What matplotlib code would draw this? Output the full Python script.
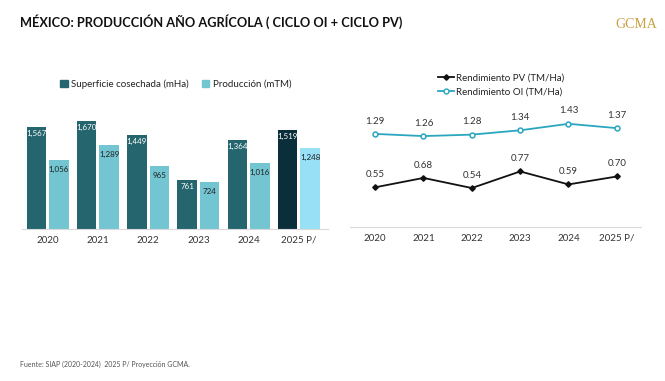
'''
plot.py - produccion ano agricola (ciclo OI + ciclo PV)
'''
import numpy as np
import matplotlib
matplotlib.use('Agg')
import matplotlib.pyplot as plt
from matplotlib.lines import Line2D
from matplotlib.patches import Patch

# data
years = ['2020', '2021', '2022', '2023', '2024', '2025 P/']
superficie = [1567, 1670, 1449, 761, 1364, 1519]
produccion = [1056, 1289, 965, 724, 1016, 1248]
rend_pv = [0.55, 0.68, 0.54, 0.77, 0.59, 0.70]
rend_oi = [1.29, 1.26, 1.28, 1.34, 1.43, 1.37]

plt.rcParams['font.family'] = ['Lato', 'DejaVu Sans']

W, H = 665, 381
fig = plt.figure(figsize=(W / 100, H / 100), dpi=100)


def rect(x0, y0, x1, y1):
    # pixel box (top-left origin) -> figure fraction
    return [x0 / W, 1 - y1 / H, (x1 - x0) / W, (y1 - y0) / H]


# colours
c_dark = '#25666E'
c_light = '#72C5D1'
c_dark_p = '#0B2F3A'
c_light_p = '#97E0F6'
c_oi = '#2AA6BF'

# ---- bar chart ----
ax1 = fig.add_axes(rect(22, 105, 328, 229))
x = np.arange(len(years))
bw = 0.39
off = 0.225
cols_d = [c_dark] * 5 + [c_dark_p]
cols_l = [c_light] * 5 + [c_light_p]
b1 = ax1.bar(x - off, superficie, bw, color=cols_d, zorder=2)
b2 = ax1.bar(x + off, produccion, bw, color=cols_l, zorder=2)
for r, v in zip(b1, superficie):
    ax1.text(r.get_x() + r.get_width() / 2, v - 45, f'{v:,}', ha='center',
             va='top', color='white', fontsize=5.8)
for r, v in zip(b2, produccion):
    ax1.text(r.get_x() + r.get_width() / 2, v - 85, f'{v:,}', ha='center',
             va='top', color='#222222', fontsize=5.8)
ax1.set_xlim(-0.51, 5.58)
ax1.set_ylim(0, 1911)
ax1.set_yticks([])
ax1.set_xticks(x)
ax1.set_xticklabels(years, fontsize=7, color='#333333')
ax1.tick_params(axis='x', length=0, pad=5)
for s in ['top', 'right', 'left']:
    ax1.spines[s].set_visible(False)
ax1.spines['bottom'].set_color('#D9D9D9')
ax1.patch.set_alpha(0)

handles = [Patch(color=c_dark), Patch(color=c_light)]
fig.legend(handles, ['Superficie cosechada (mHa)', 'Producción (mTM)'],
           loc='center', bbox_to_anchor=(176 / W, 1 - 84 / H), ncol=2,
           frameon=False, fontsize=7, handlelength=0.75, handleheight=0.75,
           handletextpad=0.4, columnspacing=1.3, labelcolor='#222222')

# ---- line chart ----
ax2 = fig.add_axes(rect(350, 100, 641, 227))
ax2.plot(x, rend_oi, color=c_oi, lw=1.3, marker='o', ms=3.5,
         mfc='white', mec=c_oi, mew=1.1, zorder=3)
ax2.plot(x, rend_pv, color='#111111', lw=1.3, marker='D', ms=2.8,
         mfc='#111111', mec='#111111', zorder=3)
for xi, v in zip(x, rend_oi):
    ax2.annotate(f'{v:.2f}', (xi, v), xytext=(0, 6), textcoords='offset points',
                 ha='center', va='bottom', fontsize=7, color='#333333')
for xi, v in zip(x, rend_pv):
    ax2.annotate(f'{v:.2f}', (xi, v), xytext=(0, 6), textcoords='offset points',
                 ha='center', va='bottom', fontsize=7, color='#333333')
ax2.set_xlim(-0.52, 5.5)
ax2.set_ylim(0, 1.76)
ax2.set_yticks([])
ax2.set_xticks(x)
ax2.set_xticklabels(years, fontsize=7, color='#333333')
ax2.tick_params(axis='x', length=0, pad=5)
for s in ['top', 'right', 'left']:
    ax2.spines[s].set_visible(False)
ax2.spines['bottom'].set_color('#D9D9D9')
ax2.patch.set_alpha(0)

lh = [Line2D([], [], color='#111111', lw=1.3, marker='D', ms=2.8),
      Line2D([], [], color=c_oi, lw=1.3, marker='o', ms=3.5, mfc='white',
             mec=c_oi)]
fig.legend(lh, ['Rendimiento PV (TM/Ha)', 'Rendimiento OI (TM/Ha)'],
           loc='center', bbox_to_anchor=(501 / W, 1 - 85 / H), ncol=1,
           frameon=False, fontsize=7, handlelength=1.6,
           handletextpad=0.2, labelspacing=0.45, labelcolor='#222222')

# ---- texts ----
fig.text(20 / W, 1 - 22 / H, 'MÉXICO: PRODUCCIÓN AÑO AGRÍCOLA ( CICLO OI + CICLO PV)',
         fontsize=9.2, fontweight='bold', color='#111111', va='center', ha='left')
fig.text(657 / W, 1 - 25 / H, 'GCMA', fontsize=10, color='#C9A040',
         family='Liberation Serif', va='center', ha='right')
fig.text(20 / W, 1 - 364 / H, 'Fuente: SIAP (2020-2024)  2025 P/ Proyección GCMA.',
         fontsize=5, color='#555555', va='center', ha='left')

fig.savefig('out.png', dpi=100)
